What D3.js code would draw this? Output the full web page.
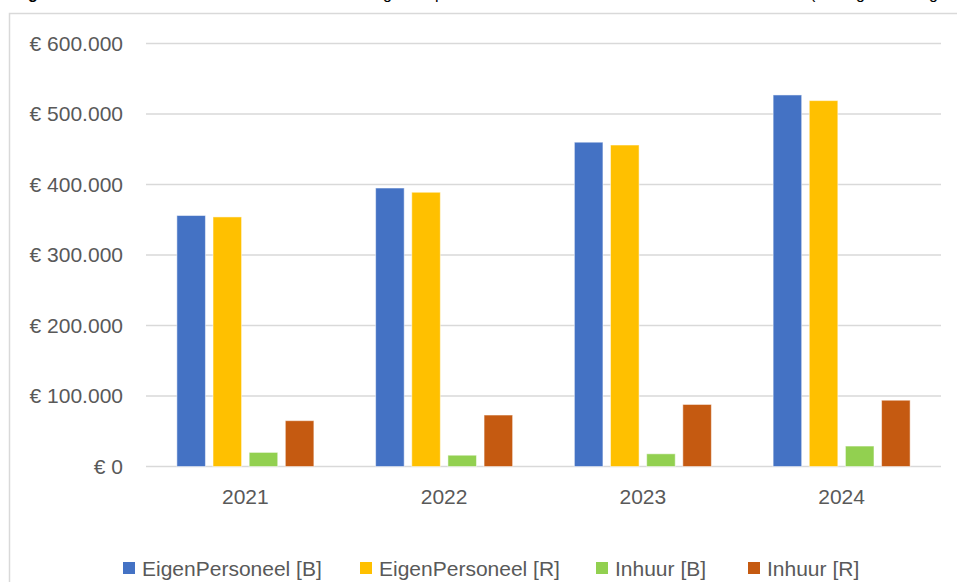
<!DOCTYPE html>
<html>
<head>
<meta charset="utf-8">
<script src="https://cdn.jsdelivr.net/npm/d3@7"></script>
<style>
  body { margin: 0; background: white; }
  svg { display: block; }
  text { font-family: "Liberation Sans", Arial, sans-serif; }
</style>
</head>
<body>
<svg class="canvas"></svg>
<script>
// data (values in euro)
let years = ["2021", "2022", "2023", "2024"];
let series = ["EigenPersoneel [B]", "EigenPersoneel [R]", "Inhuur [B]", "Inhuur [R]"];
let eigenB = [356000, 395000, 460000, 527000];
let eigenR = [354000, 389000, 456000, 519000];
let inhuurB = [20000, 16000, 18000, 29000];
let inhuurR = [65000, 73000, 88000, 94000];
let colors = ["#4472C4", "#FFC000", "#92D050", "#C55A11"];
let yTicks = [0, 100000, 200000, 300000, 400000, 500000, 600000];

let width = 957;
let height = 582;
let fontSize = "21px";
let values = [eigenB, eigenR, inhuurB, inhuurR];

let svg = d3.select(".canvas")
    .attr("width", width)
    .attr("height", height);

// title line is cut off at the top, only descenders show
let title = svg.append("text")
    .attr("y", -1)
    .style("font-size", "16px")
    .attr("fill", "#000");
title.append("tspan").attr("x", 28).style("font-weight", "bold").text("g");
title.append("tspan").attr("x", 383).text("g");
title.append("tspan").attr("x", 435).text("p");
title.append("tspan").attr("x", 810).text("(");
title.append("tspan").attr("x", 856).text("g");
title.append("tspan").attr("x", 929).text("g");

// chart frame
svg.append("rect")
    .attr("x", 9.5).attr("y", 13.5)
    .attr("width", 960).attr("height", 600)
    .attr("fill", "white")
    .attr("stroke", "#d9d9d9")
    .attr("stroke-width", 1.5);

let x0 = d3.scaleBand().domain(years).range([146, 941]);
let y = d3.scaleLinear().domain([0, 600000]).range([466.5, 43.5]);
let x1 = d3.scaleBand().domain(series).range([-68.5, 68.5]).paddingInner(0.21);

let nl = d3.formatLocale({decimal: ",", thousands: ".", grouping: [3], currency: ["€ ", ""]});
let fmt = nl.format("$,");

// gridlines
svg.append("g")
    .selectAll("line")
    .data(yTicks)
    .enter()
    .append("line")
    .attr("x1", 146).attr("x2", 941)
    .attr("y1", d => y(d)).attr("y2", d => y(d))
    .attr("stroke", "#d9d9d9")
    .attr("stroke-width", 1.5);

// y axis labels
let yAxis = svg.append("g")
    .attr("transform", "translate(134,0)")
    .call(d3.axisLeft(y).tickValues(yTicks).tickFormat(fmt).tickSize(0).tickPadding(11));
yAxis.select(".domain").remove();
yAxis.selectAll("text")
    .style("font-family", "Liberation Sans, Arial, sans-serif")
    .style("font-size", fontSize)
    .attr("fill", "#595959");

// x axis labels
let xAxis = svg.append("g")
    .attr("transform", "translate(0,466.5)")
    .call(d3.axisBottom(x0).tickSize(0).tickPadding(23));
xAxis.select(".domain").remove();
xAxis.selectAll("text")
    .style("font-family", "Liberation Sans, Arial, sans-serif")
    .style("font-size", fontSize)
    .attr("fill", "#595959");

// bars
let groups = svg.append("g")
    .selectAll("g")
    .data(years)
    .enter()
    .append("g")
    .attr("transform", d => "translate(" + (x0(d) + x0.bandwidth() / 2) + ",0)");

groups.selectAll("rect")
    .data((d, i) => series.map((s, j) => ({s: s, v: values[j][i], c: colors[j]})))
    .enter()
    .append("rect")
    .attr("x", d => x1(d.s))
    .attr("width", x1.bandwidth())
    .attr("y", d => y(d.v))
    .attr("height", d => y(0) - y(d.v))
    .attr("fill", d => d.c)
    .attr("stroke", "white")
    .attr("stroke-opacity", 0.5)
    .attr("stroke-width", 1);

// legend
let legendX = [123, 360, 596, 748];
let legend = svg.append("g")
    .selectAll("g")
    .data(series)
    .enter()
    .append("g")
    .attr("transform", (d, i) => "translate(" + legendX[i] + ",562)");
legend.append("rect")
    .attr("width", 12).attr("height", 12)
    .attr("fill", (d, i) => colors[i]);
legend.append("text")
    .attr("x", 19).attr("y", 13.5)
    .style("font-size", fontSize)
    .attr("fill", "#595959")
    .text(d => d);
</script>
</body>
</html>
